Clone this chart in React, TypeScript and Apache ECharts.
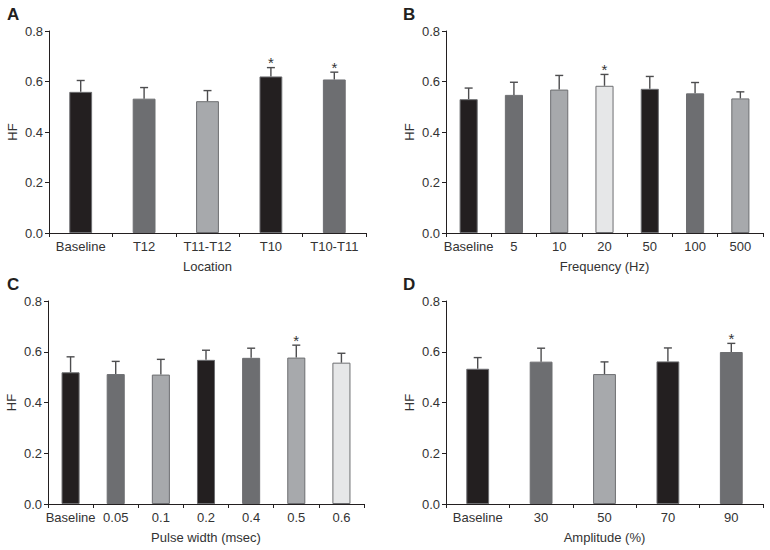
import React, { useEffect, useRef } from "react";
import * as echarts from "echarts";

// ---- Data ----
const catsA = ["Baseline", "T12", "T11-T12", "T10", "T10-T11"];
const meanA = [0.559, 0.532, 0.522, 0.62, 0.608];
const errA = [0.045, 0.044, 0.042, 0.035, 0.029];
const sigA = [0, 0, 0, 1, 1];
const shadeA = [0, 1, 2, 0, 1];

const catsB = ["Baseline", "5", "10", "20", "50", "100", "500"];
const meanB = [0.53, 0.547, 0.568, 0.583, 0.571, 0.553, 0.533];
const errB = [0.044, 0.05, 0.056, 0.045, 0.049, 0.043, 0.026];
const sigB = [0, 0, 0, 1, 0, 0, 0];
const shadeB = [0, 1, 2, 3, 0, 1, 2];

const catsC = ["Baseline", "0.05", "0.1", "0.2", "0.4", "0.5", "0.6"];
const meanC = [0.519, 0.512, 0.51, 0.568, 0.576, 0.577, 0.557];
const errC = [0.061, 0.05, 0.06, 0.038, 0.038, 0.049, 0.037];
const sigC = [0, 0, 0, 0, 0, 1, 0];
const shadeC = [0, 1, 2, 0, 1, 2, 3];

const catsD = ["Baseline", "30", "50", "70", "90"];
const meanD = [0.533, 0.561, 0.512, 0.562, 0.599];
const errD = [0.044, 0.053, 0.048, 0.053, 0.034];
const sigD = [0, 0, 0, 0, 1];
const shadeD = [0, 1, 2, 0, 1];

const yTicks = ["0.0", "0.2", "0.4", "0.6", "0.8"];
const panelLetters = ["A", "B", "C", "D"];
const xNames = ["Location", "Frequency (Hz)", "Pulse width (msec)", "Amplitude (%)"];
const yName = "HF";

// ---- Styles ----
const palette = ["#231f20", "#6d6e71", "#a7a9ac", "#e6e7e8"];
const FONT = "Liberation Sans, Arial, sans-serif";
const TXT = "#333333";
const AX = "#231f20";

const panels = [
  { cats: catsA, mean: meanA, err: errA, sig: sigA, shade: shadeA, grid: { left: 49, top: 31, width: 317, height: 202 }, bw: "36%" },
  { cats: catsB, mean: meanB, err: errB, sig: sigB, shade: shadeB, grid: { left: 446, top: 31, width: 317, height: 202 }, bw: "40%" },
  { cats: catsC, mean: meanC, err: errC, sig: sigC, shade: shadeC, grid: { left: 48, top: 301, width: 316, height: 203 }, bw: "40%" },
  { cats: catsD, mean: meanD, err: errD, sig: sigD, shade: shadeD, grid: { left: 446, top: 301, width: 317, height: 203 }, bw: "36%" },
];
const letterPos = [
  { x: 7, y: 6 },
  { x: 403, y: 6 },
  { x: 7, y: 276 },
  { x: 403, y: 276 },
];

export default function App() {
  const ref = useRef<HTMLDivElement>(null);
  useEffect(() => {
    if (!ref.current) return;
    const chart = echarts.init(ref.current, null, { renderer: "svg" });

    const grids: any[] = [];
    const xAxes: any[] = [];
    const yAxes: any[] = [];
    const series: any[] = [];

    panels.forEach((p, i) => {
      grids.push({ ...p.grid, containLabel: false });
      xAxes.push({
        type: "category",
        gridIndex: i,
        data: p.cats,
        boundaryGap: true,
        name: xNames[i],
        nameLocation: "middle",
        nameGap: 27,
        nameTextStyle: { fontFamily: FONT, fontSize: 13, color: TXT },
        axisLine: { lineStyle: { color: AX, width: 1 } },
        axisTick: { show: true, length: 4, lineStyle: { color: AX } },
        axisLabel: { fontFamily: FONT, fontSize: 13, color: TXT, margin: 7, interval: 0 },
        splitLine: { show: false },
      });
      yAxes.push({
        type: "value",
        gridIndex: i,
        min: 0,
        max: 0.8,
        interval: 0.2,
        name: yName,
        nameLocation: "middle",
        nameGap: 30,
        nameRotate: 90,
        nameTextStyle: { fontFamily: FONT, fontSize: 13, color: TXT },
        axisLine: { show: true, lineStyle: { color: AX, width: 1 } },
        axisTick: { show: true, length: 4, lineStyle: { color: AX } },
        axisLabel: {
          fontFamily: FONT,
          fontSize: 13,
          color: TXT,
          margin: 6,
          formatter: (v: number) => yTicks[Math.round(v / 0.2)] ?? String(v),
        },
        splitLine: { show: false },
      });
      series.push({
        type: "bar",
        xAxisIndex: i,
        yAxisIndex: i,
        barWidth: p.bw,
        data: p.mean.map((m, j) => ({
          value: m,
          itemStyle: {
            color: palette[p.shade[j]],
            borderColor: "#6d6e71",
            borderWidth: 1,
          },
        })),
      });
      series.push({
        type: "custom",
        xAxisIndex: i,
        yAxisIndex: i,
        z: 5,
        data: p.mean.map((m, j) => [j, m, p.err[j], p.sig[j]]),
        encode: { x: 0, y: 1 },
        renderItem: (params: any, api: any) => {
          const x = api.value(0);
          const m = api.value(1);
          const e = api.value(2);
          const s = api.value(3);
          const base = api.coord([x, m]);
          const top = api.coord([x, m + e]);
          const cap = 4;
          const children: any[] = [
            {
              type: "line",
              shape: { x1: base[0], y1: base[1], x2: top[0], y2: top[1] },
              style: { stroke: "#4d4d4f", lineWidth: 1.4 },
            },
            {
              type: "line",
              shape: { x1: top[0] - cap, y1: top[1], x2: top[0] + cap, y2: top[1] },
              style: { stroke: "#4d4d4f", lineWidth: 1.4 },
            },
          ];
          if (s) {
            children.push({
              type: "text",
              x: top[0],
              y: top[1] - 5,
              style: {
                text: "*",
                fontFamily: FONT,
                fontSize: 15,
                fill: TXT,
                align: "center",
                verticalAlign: "middle",
              },
            });
          }
          return { type: "group", children };
        },
      });
    });

    const graphics = panelLetters.map((l, i) => ({
      type: "text",
      left: letterPos[i].x,
      top: letterPos[i].y,
      style: {
        text: l,
        fontFamily: FONT,
        fontSize: 17,
        fontWeight: "bold",
        fill: "#231f20",
      },
    }));

    chart.setOption({
      animation: false,
      backgroundColor: "#ffffff",
      grid: grids,
      xAxis: xAxes,
      yAxis: yAxes,
      series,
      graphic: graphics,
    });
    return () => chart.dispose();
  }, []);

  return (
    <div
      ref={ref}
      style={{ position: "absolute", left: 0, top: 0, width: 770, height: 550 }}
    />
  );
}
